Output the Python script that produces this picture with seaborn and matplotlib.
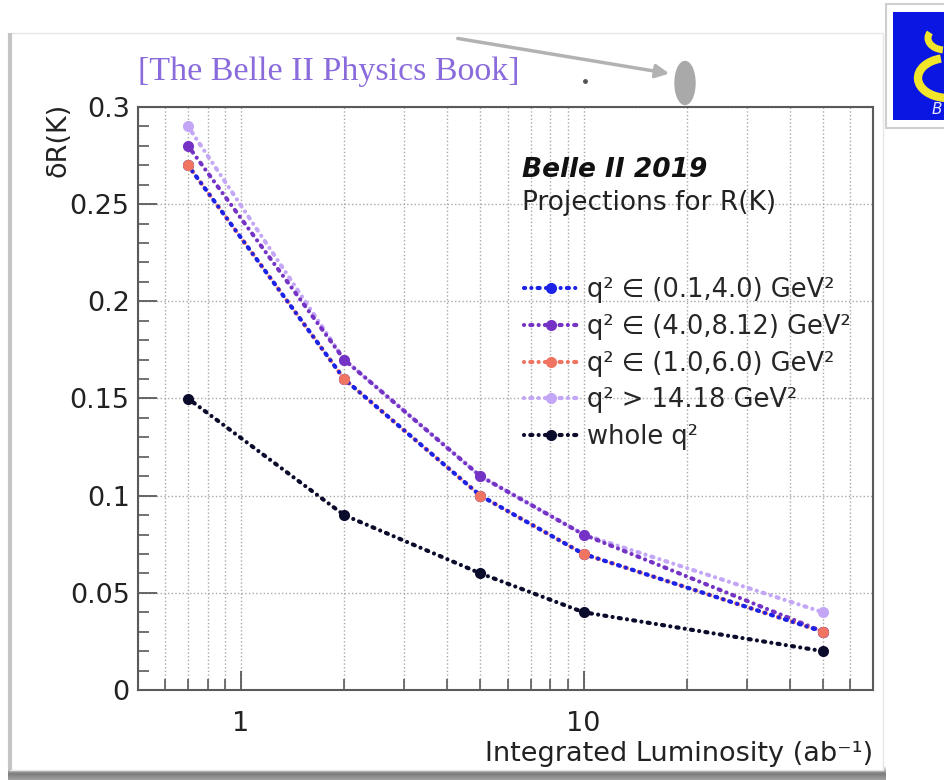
import numpy as np
import pandas as pd
import matplotlib
matplotlib.use("Agg")
import matplotlib.pyplot as plt
import seaborn as sns
from matplotlib.patches import Rectangle, Ellipse, Arc, FancyArrowPatch
from matplotlib.ticker import FixedLocator, LogLocator, MultipleLocator, FuncFormatter, NullFormatter

# Projected precision on R(K) versus integrated luminosity
lumi = [0.7, 2, 5, 10, 50]
series_labels = [
    "q² ∈ (0.1,4.0) GeV²",
    "q² ∈ (4.0,8.12) GeV²",
    "q² ∈ (1.0,6.0) GeV²",
    "q² > 14.18 GeV²",
    "whole q²",
]
dr_q2_01_40 = [0.27, 0.16, 0.10, 0.07, 0.03]
dr_q2_40_812 = [0.28, 0.17, 0.11, 0.08, 0.03]
dr_q2_10_60 = [0.27, 0.16, 0.10, 0.07, 0.03]
dr_q2_high = [0.29, 0.17, 0.11, 0.08, 0.04]
dr_whole = [0.15, 0.09, 0.06, 0.04, 0.02]
x_ticks = [1, 10]
x_tick_labels = ["1", "10"]

colors = ["#1c22e6", "#7433c4", "#f07462", "#c4a6f6", "#0b0b2c"]
values = [dr_q2_01_40, dr_q2_40_812, dr_q2_10_60, dr_q2_high, dr_whole]
zorders = [5, 3, 4, 2, 7]

frames = []
for lab, vals in zip(series_labels, values):
    frames.append(pd.DataFrame({"lumi": lumi, "dR": vals, "region": lab}))
df = pd.concat(frames, ignore_index=True)

sns.set_theme(style="white")
plt.rcParams["font.family"] = ["DejaVu Sans"]

W, H = 945, 780
fig = plt.figure(figsize=(W / 100, H / 100), dpi=100)
fig.patch.set_facecolor("white")

# background card in pixel coordinates
bg = fig.add_axes([0, 0, 1, 1], zorder=-5)
bg.set_xlim(0, W)
bg.set_ylim(H, 0)
bg.axis("off")
bg.add_patch(Rectangle((10, 33), 873, 737, fc="white", ec="#e6e6e6", lw=1.0))
bg.plot([10, 10], [33, 770], color="#c4c4c4", lw=3, solid_capstyle="butt")
grad = np.concatenate([np.linspace(0.95, 0.5, 8), np.linspace(0.5, 0.62, 6)])[:, None]
bg.imshow(grad, extent=[8, 886, 780, 766], cmap="gray", vmin=0, vmax=1, aspect="auto")

# main plot area
ax = fig.add_axes([138 / W, 1 - 690 / H, 735 / W, 583 / H], zorder=1)
ax.set_facecolor("white")

dash = (0, (0.01, 1.5, 0.5, 1.5))
dash_shift = (1.75, (0.01, 1.5, 0.5, 1.5))
for lab, col, z in zip(series_labels, colors, zorders):
    sub = df[df["region"] == lab]
    sns.lineplot(
        data=sub, x="lumi", y="dR", ax=ax, color=col, label=lab,
        marker="o", markersize=8, markeredgewidth=0, markeredgecolor=col,
        linewidth=3, linestyle=dash_shift if lab == series_labels[0] else dash,
        dash_capstyle="round", zorder=z, errorbar=None,
    )

# the (1.0,6.0) points sit above the overlapping (0.1,4.0) line
sub = df[df["region"] == series_labels[2]]
sns.scatterplot(data=sub, x="lumi", y="dR", ax=ax, color=colors[2], s=64,
                linewidth=0, zorder=6, legend=False)

ax.set_xscale("log")
ax.set_xlim(0.5, 70)
ax.set_ylim(0, 0.3)
ax.xaxis.set_major_locator(FixedLocator(x_ticks))
ax.xaxis.set_major_formatter(FuncFormatter(lambda v, p: x_tick_labels[x_ticks.index(v)] if v in x_ticks else ""))
ax.xaxis.set_minor_locator(LogLocator(base=10, subs=np.arange(2, 10)))
ax.xaxis.set_minor_formatter(NullFormatter())
ax.yaxis.set_major_locator(MultipleLocator(0.05))
ax.yaxis.set_minor_locator(MultipleLocator(0.01))
ax.yaxis.set_major_formatter(FuncFormatter(lambda v, p: f"{v:g}"))

ax.grid(True, which="both", axis="x", ls=":", color="#a8a8a8", lw=1)
ax.grid(True, which="major", axis="y", ls=":", color="#a8a8a8", lw=1)
for s in ax.spines.values():
    s.set_color("#5a5a5a")
    s.set_linewidth(1.5)
ax.tick_params(which="major", direction="in", length=14, width=1.3, color="#5a5a5a",
               labelsize=19.5, labelcolor="#222222")
ax.tick_params(axis="x", which="major", pad=15)
ax.tick_params(axis="y", which="major", pad=6)
ax.tick_params(which="minor", direction="in", length=8, width=1.2, color="#5a5a5a")
ax.tick_params(left=True, bottom=True, top=False, right=False, which="both")

ax.set_xlabel("Integrated Luminosity (ab⁻¹)", fontsize=19.5, color="#222222")
ax.xaxis.set_label_coords(1.0, -(754 - 690) / 583)
ax.xaxis.label.set_ha("right")
ax.xaxis.label.set_va("center")
ax.set_ylabel("δR(K)", fontsize=19.5, color="#222222")
ax.yaxis.set_label_coords(-(138 - 58) / 735, (690 - 103) / 583)
ax.yaxis.label.set_ha("right")
ax.yaxis.label.set_va("center")

handles, labs = ax.get_legend_handles_labels()
order = [labs.index(l) for l in series_labels]
ax.legend([handles[i] for i in order], [labs[i] for i in order],
          loc="upper left", bbox_to_anchor=(524 / W, 1 - 277 / H), bbox_transform=fig.transFigure,
          frameon=False, fontsize=18.5, handlelength=2.1, handletextpad=0.35,
          labelspacing=0.42, borderpad=0, borderaxespad=0)

fig.text(522 / W, 1 - 177 / H, "Belle II 2019", fontsize=19, fontweight="bold",
         fontstyle="italic", color="#111111", ha="left", va="baseline")
fig.text(522 / W, 1 - 210 / H, "Projections for R(K)", fontsize=19,
         color="#222222", ha="left", va="baseline")

fig.text(138 / W, 1 - 72 / H, "[The Belle II Physics Book]", fontsize=24.5,
         family=["Liberation Serif", "DejaVu Serif"], color="#8a6bdc", ha="left", va="center")

# overlay decorations: pointer arrow, marker blob and logo card
top = fig.add_axes([0, 0, 1, 1], zorder=5)
top.set_xlim(0, W)
top.set_ylim(H, 0)
top.axis("off")
top.patch.set_alpha(0)
top.add_patch(FancyArrowPatch((455, 38), (672, 74), arrowstyle="-|>", mutation_scale=20,
                              color="#b2b2b2", lw=2.5))
top.add_patch(Ellipse((685, 83), 20, 43, color="#a9a9a9"))
top.plot([585], [81], marker="o", markersize=2.5, color="#555555")

top.add_patch(Rectangle((886, 4), 62, 124, fc="white", ec="#cfcfcf", lw=1.5))
top.add_patch(Rectangle((893, 12), 55, 108, fc="#0a16e2", ec="none"))
top.add_patch(Arc((945, 38), 34, 24, theta1=100, theta2=200, color="#f2e62a", lw=5))
top.add_patch(Arc((948, 78), 60, 40, theta1=100, theta2=250, color="#f2e62a", lw=6))
top.text(932, 110, "B", color="#e8e8ff", fontsize=11, fontstyle="italic", ha="left", va="center")

fig.savefig("out.png", dpi=100, facecolor="white")
